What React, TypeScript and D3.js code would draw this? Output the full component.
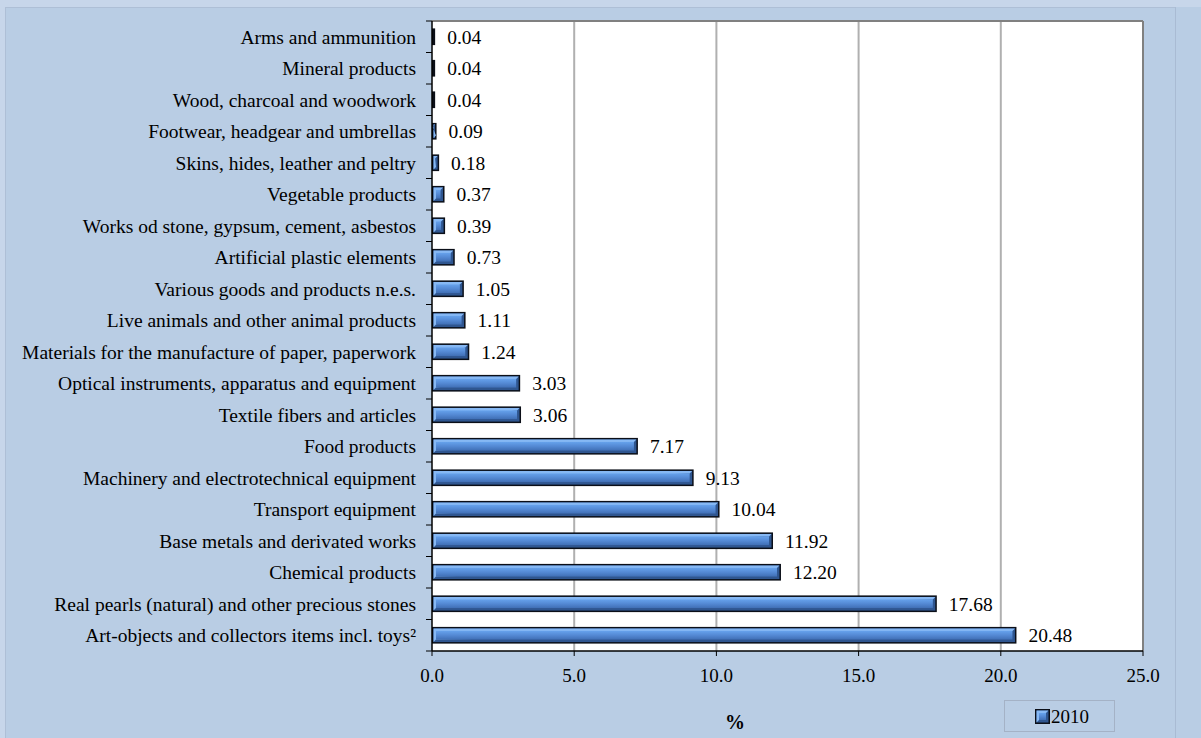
import React from "react";
import * as d3 from "d3";

const categories = [
  "Arms and ammunition",
  "Mineral products",
  "Wood, charcoal and woodwork",
  "Footwear, headgear and umbrellas",
  "Skins, hides, leather and peltry",
  "Vegetable products",
  "Works od stone, gypsum, cement, asbestos",
  "Artificial plastic elements",
  "Various goods and products n.e.s.",
  "Live animals and other animal products",
  "Materials for the manufacture of paper, paperwork",
  "Optical instruments, apparatus and equipment",
  "Textile fibers and articles",
  "Food products",
  "Machinery and electrotechnical equipment",
  "Transport equipment",
  "Base metals and derivated works",
  "Chemical products",
  "Real pearls (natural) and other precious stones",
  "Art-objects and collectors items incl. toys²",
];
const values2010 = [
  0.04, 0.04, 0.04, 0.09, 0.18, 0.37, 0.39, 0.73, 1.05, 1.11, 1.24, 3.03, 3.06,
  7.17, 9.13, 10.04, 11.92, 12.2, 17.68, 20.48,
];
const xTicks = [0, 5, 10, 15, 20, 25];
const seriesName = "2010";
const axisTitle = "%";

const W = 1201;
const H = 738;
const left = 432;
const right = 1143;
const top = 21;
const bottom = 651;
const font = "'Liberation Serif', 'Times New Roman', serif";
const fs = 19.5;

function BevelBar({ x0, y0, w, h }: { x0: number; y0: number; w: number; h: number }) {
  const b = 1.5;
  const bev = 2.5;
  const ix = x0 + b, iy = y0 + b, iw = w - 2 * b, ih = h - 2 * b;
  return (
    <g>
      <rect x={x0} y={y0} width={Math.max(w, 2)} height={h} fill="#0b0f18" />
      {iw > 1 && (
        <>
          <rect x={ix} y={iy} width={iw} height={ih} fill="#2f5690" />
          <polygon
            points={`${ix},${iy} ${ix + iw},${iy} ${ix + iw - bev},${iy + bev} ${ix + bev},${iy + ih - bev} ${ix},${iy + ih}`}
            fill="#86b8f4"
          />
          {iw > 2 * bev && (
            <rect x={ix + bev} y={iy + bev} width={iw - 2 * bev} height={ih - 2 * bev} fill="url(#barGrad)" />
          )}
        </>
      )}
    </g>
  );
}

export default function App() {
  const x = d3.scaleLinear().domain([0, 25]).range([left, right]);
  const y = d3.scaleBand<string>().domain(categories).range([top, bottom]).paddingInner(0.47).paddingOuter(0.235);
  const band = d3.scaleBand<string>().domain(categories).range([top, bottom]);
  return (
    <svg width={W} height={H} style={{ position: "absolute", left: 0, top: 0, display: "block" }}>
      <defs>
        <linearGradient id="barGrad" x1="0" y1="0" x2="0" y2="1">
          <stop offset="0" stopColor="#66a2ec" />
          <stop offset="0.5" stopColor="#5489d4" />
          <stop offset="1" stopColor="#406fb5" />
        </linearGradient>
      </defs>
      <rect x={0} y={0} width={W} height={H} fill="#c7d6ea" />
      <rect x={5} y={7} width={1171} height={H - 7} fill="#b9cde4" />
      <line x1={5} x2={1176} y1={7.5} y2={7.5} stroke="#aebfd6" />
      <line x1={5.5} x2={5.5} y1={7} y2={H} stroke="#aebfd6" />
      <rect x={1176} y={7} width={W - 1176} height={H - 7} fill="#b9cde4" />
      <line x1={1175.5} x2={1175.5} y1={7} y2={H} stroke="#a9bbd3" />
      {/* plot area */}
      <rect x={left} y={top} width={right - left} height={bottom - top} fill="#ffffff" />
      {xTicks.slice(1, -1).map((t) => (
        <line key={t} x1={x(t)} x2={x(t)} y1={top} y2={bottom} stroke="#b0b0b0" strokeWidth={2} />
      ))}
      <line x1={left} x2={right} y1={top} y2={top} stroke="#808080" strokeWidth={2} />
      <line x1={right} x2={right} y1={top} y2={bottom} stroke="#808080" strokeWidth={2} />
      {/* bars */}
      {categories.map((c, i) => (
        <g key={c}>
          <BevelBar x0={x(0)} y0={y(c)!} w={x(values2010[i]) - x(0) + 2} h={y.bandwidth()} />
          <text
            x={x(values2010[i]) + 14}
            y={band(c)! + band.bandwidth() / 2}
            dy="0.35em"
            fontFamily={font}
            fontSize={fs}
            fill="#000"
          >
            {values2010[i].toFixed(2)}
          </text>
          <text
            x={416}
            y={band(c)! + band.bandwidth() / 2}
            dy="0.35em"
            textAnchor="end"
            fontFamily={font}
            fontSize={fs}
            fill="#000"
          >
            {c}
          </text>
        </g>
      ))}
      {/* axes */}
      <line x1={left} x2={left} y1={top} y2={bottom} stroke="#000" strokeWidth={1.5} />
      {categories.concat(["_end"]).map((c, i) => {
        const yy = top + i * band.bandwidth();
        return <line key={"t" + i} x1={left - 6} x2={left} y1={yy} y2={yy} stroke="#000" />;
      })}
      <line x1={left} x2={right} y1={bottom} y2={bottom} stroke="#000" strokeWidth={1.5} />
      {xTicks.map((t) => (
        <g key={"x" + t}>
          <line x1={x(t)} x2={x(t)} y1={bottom} y2={bottom + 5} stroke="#000" />
          <text x={x(t)} y={682} textAnchor="middle" fontFamily={font} fontSize={19} fill="#000">
            {t.toFixed(1)}
          </text>
        </g>
      ))}
      <text x={735} y={729} textAnchor="middle" fontFamily={font} fontSize={20} fontWeight="bold" fill="#000">
        {axisTitle}
      </text>
      {/* legend */}
      <rect x={1004.5} y={700.5} width={110} height={31} fill="none" stroke="#a4b2c6" />
      <BevelBar x0={1035} y0={709} w={15} h={15} />
      <text x={1051} y={723} fontFamily={font} fontSize={19} fill="#000">
        {seriesName}
      </text>
    </svg>
  );
}
